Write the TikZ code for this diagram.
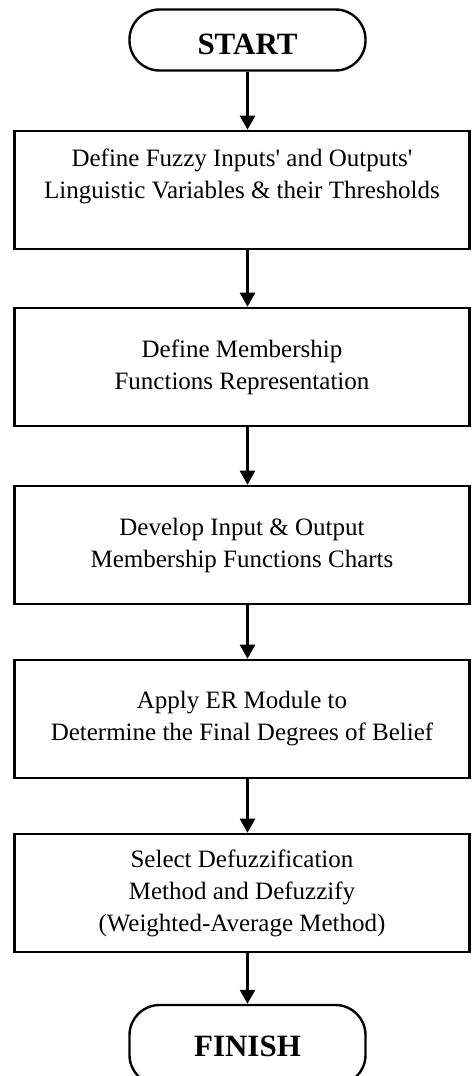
\documentclass[tikz,border=0pt]{standalone}
\usepackage{fontspec}
\setmainfont{Liberation Serif}
\usetikzlibrary{arrows.meta}

\begin{document}
\begin{tikzpicture}[
    x=1pt, y=-1pt,
    stepbox/.style={draw, line width=2.6pt, minimum width=455pt, minimum height=118pt, align=center, inner sep=0pt, font=\fontsize{25}{32}\selectfont},
    term/.style={draw, line width=2.4pt, rounded corners=30pt, minimum width=236pt, minimum height=61pt, inner sep=0pt, text height=28pt, text depth=0pt, font=\fontsize{31}{36}\selectfont\bfseries},
    arr/.style={-{Triangle[length=14pt, width=15pt]}, line width=2.6pt}
]
\useasboundingbox (0,0) rectangle (472,1076);
\node[term] (start) at (247.5,40) {START};
\node[stepbox] (def) at (242,190) {Define Fuzzy Inputs\textquotesingle{} and Outputs\textquotesingle\\Linguistic Variables \& their Thresholds\\\mbox{}};
\node[stepbox] (mf) at (242,367) {Define Membership\\Functions Representation};
\node[stepbox] (chart) at (242,545) {Develop Input \& Output\\Membership Functions Charts};
\node[stepbox] (er) at (242,719) {Apply ER Module to\\Determine the Final Degrees of Belief};
\node[stepbox] (defuz) at (242,893) {Select Defuzzification\\Method and Defuzzify\\(Weighted-Average Method)};
\node[term, minimum height=80pt, text height=22pt] (finish) at (247.5,1045) {FINISH};

\draw[arr] (start) -- (start |- def.north);
\draw[arr] (def.south -| start) -- (mf.north -| start);
\draw[arr] (mf.south -| start) -- (chart.north -| start);
\draw[arr] (chart.south -| start) -- (er.north -| start);
\draw[arr] (er.south -| start) -- (defuz.north -| start);
\draw[arr] (defuz.south -| start) -- (finish);
\end{tikzpicture}
\end{document}
